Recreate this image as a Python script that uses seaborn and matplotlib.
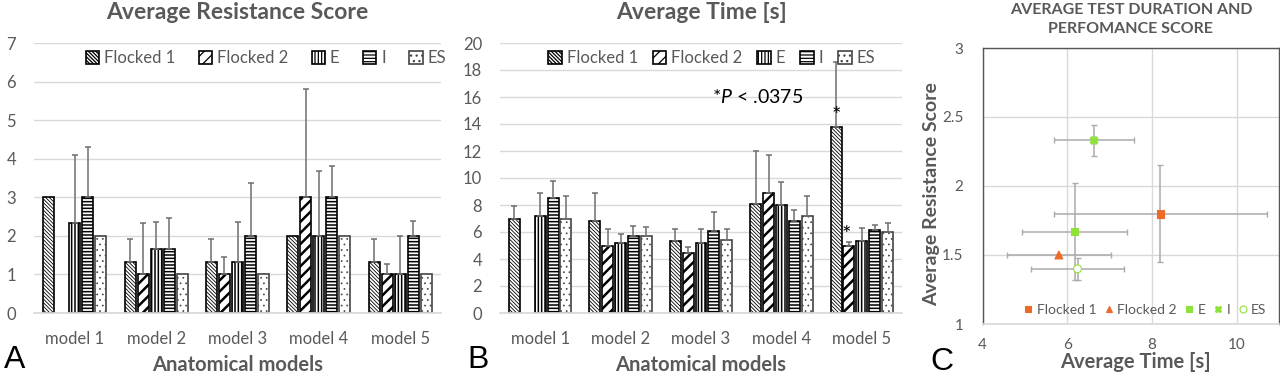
import numpy as np
import pandas as pd
import matplotlib
matplotlib.use("Agg")
import matplotlib.pyplot as plt
import seaborn as sns
from matplotlib.lines import Line2D
from matplotlib.ticker import FuncFormatter

# ---------------- data ----------------
models = ["model 1", "model 2", "model 3", "model 4", "model 5"]
groups = ["Flocked 1", "Flocked 2", "E", "I", "ES"]

# Panel A: average resistance score (upper error = SD)
score_f1 = [3.0, 1.33, 1.33, 2.0, 1.33]
score_f2 = [np.nan, 1.0, 1.0, 3.0, 1.0]
score_e = [2.33, 1.67, 1.33, 2.0, 1.0]
score_i = [3.0, 1.67, 2.0, 3.0, 2.0]
score_es = [2.0, 1.0, 1.0, 2.0, 1.0]
score_err_f1 = [0.0, 0.58, 0.58, 0.0, 0.58]
score_err_f2 = [0.0, 1.33, 0.45, 2.8, 0.28]
score_err_e = [1.77, 0.68, 1.03, 1.68, 1.0]
score_err_i = [1.3, 0.8, 1.37, 0.82, 0.38]
score_err_es = [0.0, 0.0, 0.0, 0.0, 0.0]

# Panel B: average time [s]
time_f1 = [7.0, 6.85, 5.3, 8.1, 13.75]
time_f2 = [np.nan, 4.95, 4.45, 8.9, 4.95]
time_e = [7.2, 5.2, 5.2, 8.0, 5.3]
time_i = [8.5, 5.7, 6.1, 6.85, 6.15]
time_es = [7.0, 5.7, 5.4, 7.2, 6.0]
time_err_f1 = [0.95, 2.05, 0.95, 3.9, 4.85]
time_err_f2 = [0.0, 1.3, 0.45, 2.8, 0.3]
time_err_e = [1.7, 0.65, 1.05, 1.7, 1.0]
time_err_i = [1.25, 0.75, 1.4, 0.8, 0.35]
time_err_es = [1.65, 0.7, 0.85, 1.45, 0.65]

# Panel C: overall means with SD
c_time = [8.2, 5.8, 6.17, 6.63, 6.24]
c_time_sd = [2.52, 1.22, 1.25, 0.95, 1.1]
c_score = [1.8, 1.5, 1.67, 2.33, 1.4]
c_score_sd = [0.35, 0.0, 0.35, 0.115, 0.08]

# ---------------- style ----------------
sns.set_theme(style="white")
plt.rcParams["font.family"] = ["Lato", "DejaVu Sans"]
plt.rcParams["mathtext.fontset"] = "custom"
plt.rcParams["mathtext.it"] = "Lato:italic"
plt.rcParams["mathtext.rm"] = "Lato"
plt.rcParams["hatch.linewidth"] = 0.9
TXT = "#595959"
GRID = "#D9D9D9"

hatches = ["\\\\\\\\\\\\\\\\\\", "///", "|||||", "-----", "..."]
hatch_lw = [0.6, 1.8, 1.1, 1.1, 0.5]

fig = plt.figure(figsize=(12.8, 3.78), dpi=100)
W, H = 1280.0, 378.0


def add_ax(x0, y_top, x1, y_bot):
    return fig.add_axes([x0 / W, 1 - y_bot / H, (x1 - x0) / W, (y_bot - y_top) / H])


def bar_panel(ax, vals, errs, ymax, ystep, title, leg_x, colsp):
    rows = []
    for g, v in zip(groups, vals):
        for m, val in zip(models, v):
            if not np.isnan(val):
                rows.append({"model": m, "group": g, "value": val})
    df = pd.DataFrame(rows)
    sns.barplot(data=df, x="model", y="value", hue="group", order=models,
                hue_order=groups, palette=["white"] * 5, saturation=1,
                edgecolor="black", linewidth=1.2, errorbar=None, gap=0.15,
                width=0.8, legend=False, ax=ax, zorder=2)
    bar_conts = list(ax.containers)
    for ci, cont in enumerate(bar_conts):
        for bar in cont.patches:
            bar.set_hatch(hatches[ci])
            if hasattr(bar, "set_hatch_linewidth"):
                bar.set_hatch_linewidth(hatch_lw[ci])
            if ci == 4:
                bar.set_edgecolor("#444444")
            h = bar.get_height()
            if np.isnan(h):
                continue
            xc = bar.get_x() + bar.get_width() / 2
            idx = int(round(xc))
            e = errs[ci][idx]
            if e > 0:
                ax.errorbar([xc], [h], yerr=[[0], [e]], fmt="none",
                            ecolor="#6e6e6e", elinewidth=1.1, capsize=2,
                            capthick=1.1, zorder=3)
    ax.set_ylim(0, ymax)
    ax.set_xlim(-0.5, 4.5)
    ax.set_yticks(np.arange(0, ymax + 0.01, ystep))
    ax.yaxis.grid(True, color=GRID, linewidth=1)
    ax.set_axisbelow(True)
    for s in ["left", "right", "top"]:
        ax.spines[s].set_visible(False)
    ax.spines["bottom"].set_color(GRID)
    ax.tick_params(axis="both", length=0, labelsize=12, labelcolor=TXT)
    ax.tick_params(axis="x", pad=13)
    ax.tick_params(axis="y", pad=13)
    ax.set_xlabel("Anatomical models", fontsize=14.5, fontweight="bold",
                  color=TXT, labelpad=6)
    ax.set_ylabel("")
    ax.set_title(title, fontsize=16.5, fontweight="bold", color=TXT, pad=17)
    handles = [cont.patches[0] for cont in bar_conts]
    ax.legend(handles, groups, loc="upper center", bbox_to_anchor=(leg_x, 1.01),
              ncol=5, frameon=False, fontsize=12, labelcolor=TXT,
              handlelength=0.8, handleheight=0.8, handletextpad=0.3,
              columnspacing=colsp, borderaxespad=0.2)
    return bar_conts


# Panel A
axA = add_ax(34, 43, 441, 313)
bar_panel(axA, [score_f1, score_f2, score_e, score_i, score_es],
          [score_err_f1, score_err_f2, score_err_e, score_err_i, score_err_es],
          7, 1, "Average Resistance Score", 0.57, 1.4)

# Panel B
axB = add_ax(500, 43, 902, 313)
contsB = bar_panel(axB, [time_f1, time_f2, time_e, time_i, time_es],
                   [time_err_f1, time_err_f2, time_err_e, time_err_i, time_err_es],
                   20, 2, "Average Time [s]", 0.527, 0.9)
axB.text(2.7, 16.0, r"*$\mathit{P}$ < .0375", fontsize=14, color="black",
         ha="center", va="center")
f1_bar = [b for b in contsB[0].patches if int(round(b.get_x() + b.get_width() / 2)) == 4][0]
f2_bar = [b for b in contsB[1].patches if int(round(b.get_x() + b.get_width() / 2)) == 4][0]
axB.text(f1_bar.get_x() + f1_bar.get_width() / 2, 14.6, "*", fontsize=16,
         color="black", ha="center", va="center")
axB.text(f2_bar.get_x() + f2_bar.get_width() / 2 - 0.03, 5.8, "*", fontsize=16,
         color="black", ha="center", va="center")

# Panel C
axC = add_ax(982.7, 48, 1279, 324)
dfc = pd.DataFrame({"group": groups, "time": c_time, "score": c_score})
orange = "#EE6A2A"
green = "#8FE23A"
pal = {"Flocked 1": orange, "Flocked 2": orange, "E": green, "I": green, "ES": green}
mk = {"Flocked 1": "s", "Flocked 2": "^", "E": "s", "I": "X", "ES": "o"}
axC.errorbar(c_time, c_score, xerr=c_time_sd, yerr=c_score_sd, fmt="none",
             ecolor="#ABABAB", elinewidth=1.1, capsize=2, capthick=1, zorder=2)
sns.scatterplot(data=dfc, x="time", y="score", hue="group", style="group",
                palette=pal, markers=mk, s=32, legend=False, ax=axC, zorder=3,
                linewidth=0.8)
for coll in axC.collections:
    fc = coll.get_facecolors()
    if len(fc) == len(groups):
        ec = fc.copy()
        fc2 = fc.copy()
        fc2[4] = [1, 1, 1, 1]
        coll.set_edgecolors(ec)
        coll.set_facecolors(fc2)
axC.set_xlim(4, 11)
axC.set_ylim(1, 3)
axC.set_xticks([4, 6, 8, 10])
axC.set_yticks([1, 1.5, 2, 2.5, 3])
axC.yaxis.set_major_formatter(FuncFormatter(lambda v, p: f"{v:g}"))
axC.grid(True, color=GRID, linewidth=1)
axC.set_axisbelow(True)
for s in ["left", "top", "right"]:
    axC.spines[s].set_color("#555555")
    axC.spines[s].set_linewidth(1.0)
axC.spines["bottom"].set_color(GRID)
axC.tick_params(axis="both", length=0, labelsize=11, labelcolor=TXT)
axC.tick_params(axis="x", pad=10)
axC.tick_params(axis="y", pad=14)
axC.set_xlabel("Average Time [s]", fontsize=14.5, fontweight="bold", color=TXT)
axC.xaxis.set_label_coords(0.515, -0.10)
axC.set_ylabel("Average Resistance Score", fontsize=14, fontweight="bold",
               color=TXT)
axC.yaxis.set_label_coords(-0.145, 0.47)
axC.set_title("AVERAGE TEST DURATION AND\nPERFOMANCE SCORE", fontsize=11.5,
              fontweight="bold", color=TXT, pad=11, linespacing=1.45)
leg_handles = []
for g in groups:
    face = "white" if g == "ES" else pal[g]
    leg_handles.append(Line2D([], [], linestyle="none", marker=mk[g],
                              markersize=5, markerfacecolor=face,
                              markeredgecolor=pal[g], markeredgewidth=0.8))
axC.legend(leg_handles, groups, loc="lower right", bbox_to_anchor=(0.985, 0.0),
           ncol=5, frameon=False, fontsize=10, labelcolor=TXT,
           handlelength=0.6, handletextpad=0.3, columnspacing=0.6,
           borderaxespad=0.4, borderpad=0.2)

# Panel letters
fig.text(15 / W, 1 - 360 / H, "A", fontsize=23, family="Liberation Sans",
         ha="center", va="center", color="black")
fig.text(478 / W, 1 - 360 / H, "B", fontsize=23, family="Liberation Sans",
         ha="center", va="center", color="black")
fig.text(942 / W, 1 - 362 / H, "C", fontsize=23, family="Liberation Sans",
         ha="center", va="center", color="black")

fig.savefig("out.png", dpi=100)
